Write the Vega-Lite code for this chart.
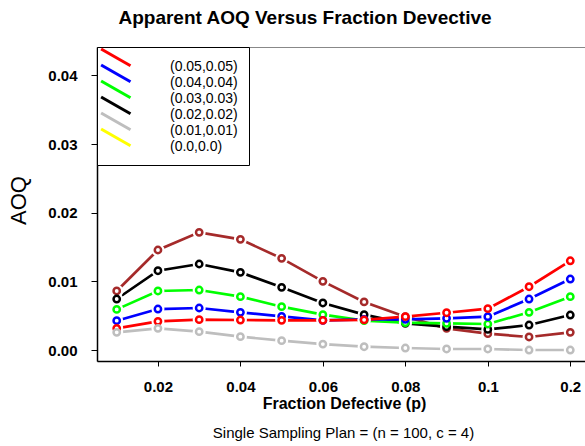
{
  "$schema": "https://vega.github.io/schema/vega-lite/v6.json",
  "width": 488,
  "height": 314,
  "autosize": "none",
  "padding": {"left": 97, "top": 47, "right": 0, "bottom": 85},
  "background": "white",
  "title": {"text": "Apparent AOQ Versus Fraction Devective", "anchor": "middle", "frame": "group", "dx": -36, "offset": 4, "baseline": "alphabetic", "font": "Liberation Sans", "fontSize": 19, "fontWeight": "bold", "color": "#000"},
  "config": {
    "view": {"stroke": "#888", "strokeWidth": 1},
    "axis": {"labelFont": "Liberation Sans", "titleFont": "Liberation Sans", "labelColor": "#000", "titleColor": "#000", "domainColor": "#000", "tickColor": "#000", "grid": false}
  },
  "datasets": {
    "aoq": [
      {"series": "s1", "i": 1, "aoq": 0.0086}, {"series": "s1", "i": 2, "aoq": 0.01457}, {"series": "s1", "i": 3, "aoq": 0.01714}, {"series": "s1", "i": 4, "aoq": 0.01612}, {"series": "s1", "i": 5, "aoq": 0.01335}, {"series": "s1", "i": 6, "aoq": 0.0100}, {"series": "s1", "i": 7, "aoq": 0.0070}, {"series": "s1", "i": 8, "aoq": 0.00486}, {"series": "s1", "i": 9, "aoq": 0.00316}, {"series": "s1", "i": 10, "aoq": 0.00238}, {"series": "s1", "i": 11, "aoq": 0.0019}, {"series": "s1", "i": 12, "aoq": 0.00257},
      {"series": "s2", "i": 1, "aoq": 0.00743}, {"series": "s2", "i": 2, "aoq": 0.01155}, {"series": "s2", "i": 3, "aoq": 0.01253}, {"series": "s2", "i": 4, "aoq": 0.01131}, {"series": "s2", "i": 5, "aoq": 0.00913}, {"series": "s2", "i": 6, "aoq": 0.00685}, {"series": "s2", "i": 7, "aoq": 0.00515}, {"series": "s2", "i": 8, "aoq": 0.00389}, {"series": "s2", "i": 9, "aoq": 0.0034}, {"series": "s2", "i": 10, "aoq": 0.003}, {"series": "s2", "i": 11, "aoq": 0.00364}, {"series": "s2", "i": 12, "aoq": 0.0051},
      {"series": "s3", "i": 1, "aoq": 0.00592}, {"series": "s3", "i": 2, "aoq": 0.0086}, {"series": "s3", "i": 3, "aoq": 0.00874}, {"series": "s3", "i": 4, "aoq": 0.00777}, {"series": "s3", "i": 5, "aoq": 0.00631}, {"series": "s3", "i": 6, "aoq": 0.00515}, {"series": "s3", "i": 7, "aoq": 0.00427}, {"series": "s3", "i": 8, "aoq": 0.00398}, {"series": "s3", "i": 9, "aoq": 0.00389}, {"series": "s3", "i": 10, "aoq": 0.00379}, {"series": "s3", "i": 11, "aoq": 0.00549}, {"series": "s3", "i": 12, "aoq": 0.00777},
      {"series": "s4", "i": 1, "aoq": 0.00427}, {"series": "s4", "i": 2, "aoq": 0.00597}, {"series": "s4", "i": 3, "aoq": 0.00612}, {"series": "s4", "i": 4, "aoq": 0.00549}, {"series": "s4", "i": 5, "aoq": 0.00491}, {"series": "s4", "i": 6, "aoq": 0.00432}, {"series": "s4", "i": 7, "aoq": 0.00447}, {"series": "s4", "i": 8, "aoq": 0.00447}, {"series": "s4", "i": 9, "aoq": 0.00461}, {"series": "s4", "i": 10, "aoq": 0.00486}, {"series": "s4", "i": 11, "aoq": 0.00743}, {"series": "s4", "i": 12, "aoq": 0.01034},
      {"series": "s5", "i": 1, "aoq": 0.00316}, {"series": "s5", "i": 2, "aoq": 0.00418}, {"series": "s5", "i": 3, "aoq": 0.00442}, {"series": "s5", "i": 4, "aoq": 0.00437}, {"series": "s5", "i": 5, "aoq": 0.00432}, {"series": "s5", "i": 6, "aoq": 0.00432}, {"series": "s5", "i": 7, "aoq": 0.0044}, {"series": "s5", "i": 8, "aoq": 0.00486}, {"series": "s5", "i": 9, "aoq": 0.00543}, {"series": "s5", "i": 10, "aoq": 0.00602}, {"series": "s5", "i": 11, "aoq": 0.00922}, {"series": "s5", "i": 12, "aoq": 0.013},
      {"series": "s6", "i": 1, "aoq": 0.00257}, {"series": "s6", "i": 2, "aoq": 0.00316}, {"series": "s6", "i": 3, "aoq": 0.00267}, {"series": "s6", "i": 4, "aoq": 0.00194}, {"series": "s6", "i": 5, "aoq": 0.00136}, {"series": "s6", "i": 6, "aoq": 0.00087}, {"series": "s6", "i": 7, "aoq": 0.00048}, {"series": "s6", "i": 8, "aoq": 0.00029}, {"series": "s6", "i": 9, "aoq": 0.00015}, {"series": "s6", "i": 10, "aoq": 0.00015}, {"series": "s6", "i": 11, "aoq": 0.0}, {"series": "s6", "i": 12, "aoq": 0.0}
    ],
    "legend": [
      {"label": "(0.05,0.05)"}, {"label": "(0.04,0.04)"}, {"label": "(0.03,0.03)"}, {"label": "(0.02,0.02)"}, {"label": "(0.01,0.01)"}, {"label": "(0.0,0.0)"}
    ]
  },
  "layer": [
    {
      "data": {"name": "aoq"},
      "mark": {"type": "line", "strokeWidth": 2.7},
      "encoding": {
        "x": {"field": "i", "type": "quantitative", "scale": {"domain": [0.522, 12.357], "nice": false, "zero": false},
          "axis": {"values": [2, 4, 6, 8, 10, 12], "labelExpr": "datum.value == 2 ? '0.02' : datum.value == 4 ? '0.04' : datum.value == 6 ? '0.06' : datum.value == 8 ? '0.08' : datum.value == 10 ? '0.1' : '0.2'", "labelFontSize": 15, "labelFontWeight": "bold", "tickSize": 5, "labelPadding": 13, "domainWidth": 1.5, "title": "Fraction Defective (p)", "titleFontSize": 16, "titleFontWeight": "bold", "titleBaseline": "alphabetic", "titleAlign": "center", "titleX": 247, "titleY": 47}},
        "y": {"field": "aoq", "type": "quantitative", "scale": {"domain": [-0.0016, 0.04414], "nice": false, "zero": false},
          "axis": {"values": [0, 0.01, 0.02, 0.03, 0.04], "format": ".2f", "labelFontSize": 15, "labelFontWeight": "bold", "tickSize": 6, "labelPadding": 14, "domainWidth": 1.5, "title": "AOQ", "titleFontSize": 22, "titleFontWeight": "normal", "titleAngle": 270, "titleBaseline": "alphabetic", "titleAlign": "center", "titleX": -72, "titleY": 153}},
        "color": {"field": "series", "type": "nominal", "scale": {"domain": ["s1", "s2", "s3", "s4", "s5", "s6"], "range": ["#A52A2A", "#000000", "#00FF00", "#0000FF", "#FF0000", "#BEBEBE"]}, "legend": null},
        "order": {"field": "i"}
      }
    },
    {
      "data": {"name": "aoq"},
      "mark": {"type": "point", "shape": "circle", "filled": true, "color": "white", "size": 170, "opacity": 1, "strokeWidth": 0},
      "encoding": {
        "x": {"field": "i", "type": "quantitative", "scale": {"domain": [0.522, 12.357], "nice": false, "zero": false}, "axis": null},
        "y": {"field": "aoq", "type": "quantitative", "scale": {"domain": [-0.0016, 0.04414], "nice": false, "zero": false},
          "axis": {"values": [0, 0.01, 0.02, 0.03, 0.04], "format": ".2f", "labelFontSize": 15, "labelFontWeight": "bold", "tickSize": 6, "labelPadding": 14, "domainWidth": 1.5, "title": "AOQ", "titleFontSize": 22, "titleFontWeight": "normal", "titleAngle": 270, "titleBaseline": "alphabetic", "titleAlign": "center", "titleX": -72, "titleY": 153}}
      }
    },
    {
      "data": {"name": "aoq"},
      "mark": {"type": "point", "shape": "circle", "filled": false, "fill": "white", "strokeWidth": 2.5, "size": 40, "opacity": 1},
      "encoding": {
        "x": {"field": "i", "type": "quantitative", "scale": {"domain": [0.522, 12.357], "nice": false, "zero": false},
          "axis": {"orient": "bottom", "labels": false, "ticks": false, "domain": false, "grid": false, "title": "Single Sampling Plan = (n = 100, c = 4)", "titleFontSize": 15, "titleFontWeight": "normal", "titleBaseline": "alphabetic", "titleAlign": "center", "titleX": 246, "titleY": 76}},
        "y": {"field": "aoq", "type": "quantitative", "scale": {"domain": [-0.0016, 0.04414], "nice": false, "zero": false},
          "axis": {"values": [0, 0.01, 0.02, 0.03, 0.04], "format": ".2f", "labelFontSize": 15, "labelFontWeight": "bold", "tickSize": 6, "labelPadding": 14, "domainWidth": 1.5, "title": "AOQ", "titleFontSize": 22, "titleFontWeight": "normal", "titleAngle": 270, "titleBaseline": "alphabetic", "titleAlign": "center", "titleX": -72, "titleY": 153}},
        "color": {"field": "series", "type": "nominal", "scale": {"domain": ["s1", "s2", "s3", "s4", "s5", "s6"], "range": ["#A52A2A", "#000000", "#00FF00", "#0000FF", "#FF0000", "#BEBEBE"]}, "legend": null}
      }
    },
    {
      "data": {"name": "legend"},
      "mark": {"type": "point", "filled": false, "opacity": 0, "strokeWidth": 3},
      "encoding": {
        "color": {"field": "label", "type": "nominal", "sort": null,
          "scale": {"domain": ["(0.05,0.05)", "(0.04,0.04)", "(0.03,0.03)", "(0.02,0.02)", "(0.01,0.01)", "(0.0,0.0)"], "range": ["#FF0000", "#0000FF", "#00FF00", "#000000", "#BEBEBE", "#FFFF00"]},
          "legend": {"title": null, "orient": "top-left", "offset": 0, "padding": 11, "strokeColor": "#000", "fillColor": "#fff", "symbolSize": 196, "symbolStrokeWidth": 3, "symbolOffset": 7, "labelOffset": 38, "labelFontSize": 14, "labelFont": "Liberation Sans", "labelColor": "#000", "rowPadding": -19.5, "symbolOpacity": 1,
            "encode": {"symbols": {"update": {"opacity": {"value": 1}, "strokeOpacity": {"value": 1}, "fill": {"value": "transparent"}}}}}},
        "shape": {"field": "label", "type": "nominal", "sort": null,
          "scale": {"domain": ["(0.05,0.05)", "(0.04,0.04)", "(0.03,0.03)", "(0.02,0.02)", "(0.01,0.01)", "(0.0,0.0)"], "range": ["M-3.2,-2.5L1,-0.1", "M-3.2,-2.5L1,-0.1", "M-3.2,-2.5L1,-0.1", "M-3.2,-2.5L1,-0.1", "M-3.2,-2.5L1,-0.1", "M-3.2,-2.5L1,-0.1"]},
          "legend": {"title": null, "orient": "top-left", "offset": 0, "padding": 11, "strokeColor": "#000", "fillColor": "#fff", "symbolSize": 196, "symbolStrokeWidth": 3, "symbolOffset": 7, "labelOffset": 38, "labelFontSize": 14, "labelFont": "Liberation Sans", "labelColor": "#000", "rowPadding": -19.5, "symbolOpacity": 1,
            "encode": {"symbols": {"update": {"opacity": {"value": 1}, "strokeOpacity": {"value": 1}, "fill": {"value": "transparent"}}}}}}
      }
    }
  ],
  "resolve": {"scale": {"x": "independent", "color": "independent", "shape": "independent"}, "axis": {"x": "independent"}, "legend": {"color": "independent", "shape": "independent"}}
}
